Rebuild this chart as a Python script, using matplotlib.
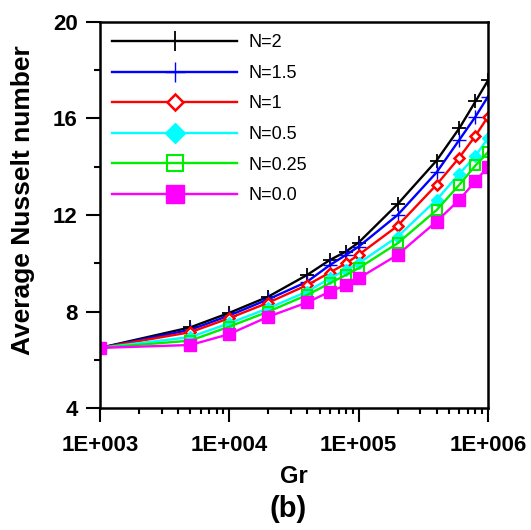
import matplotlib
matplotlib.use("Agg")
import matplotlib.pyplot as plt
from matplotlib.ticker import FixedLocator, NullFormatter, LogLocator

plt.rcParams['font.family'] = ['Liberation Sans', 'DejaVu Sans']

gr = [1e3, 5e3, 1e4, 2e4, 4e4, 6e4, 8e4, 1e5, 2e5, 4e5, 6e5, 8e5, 1e6]
nu_n2 = [6.5, 7.35, 7.95, 8.62, 9.52, 10.14, 10.49, 10.86, 12.45, 14.25, 15.59, 16.7, 17.57]
nu_n15 = [6.5, 7.25, 7.84, 8.51, 9.24, 9.93, 10.35, 10.69, 12.0, 13.76, 15.11, 16.07, 16.9]
nu_n1 = [6.5, 7.15, 7.73, 8.37, 9.1, 9.62, 10.0, 10.35, 11.55, 13.25, 14.38, 15.28, 16.07]
nu_n05 = [6.5, 6.95, 7.52, 8.14, 8.83, 9.38, 9.73, 10.0, 11.1, 12.63, 13.7, 14.45, 15.18]
nu_n025 = [6.5, 6.8, 7.38, 8.0, 8.69, 9.18, 9.52, 9.8, 10.83, 12.2, 13.25, 14.05, 14.6]
nu_n0 = [6.5, 6.62, 7.07, 7.79, 8.38, 8.83, 9.1, 9.38, 10.35, 11.73, 12.63, 13.4, 14.0]
labels = ['N=2', 'N=1.5', 'N=1', 'N=0.5', 'N=0.25', 'N=0.0']

fig = plt.figure(figsize=(5.31, 5.30), dpi=100)
ax = fig.add_axes([0.188, 0.2296, 0.731, 0.7294])

styles = [
    dict(color='black', marker='+', ms=10, mew=1.3),
    dict(color='blue', marker='+', ms=10, mew=1.0),
    dict(color='red', marker='D', ms=5.5, mew=1.8, mfc='white'),
    dict(color='cyan', marker='D', ms=6.5, mew=1),
    dict(color='#00ee00', marker='s', ms=7.5, mew=1.5, mfc='none'),
    dict(color='magenta', marker='s', ms=9, mew=1),
]
series = [nu_n2, nu_n15, nu_n1, nu_n05, nu_n025, nu_n0]
for y, lab, st in zip(series, labels, styles):
    ax.plot(gr, y, lw=1.7, label=lab, **st)

ax.set_xscale('log')
ax.set_xlim(1e3, 1e6)
ax.set_ylim(4, 20)
ax.set_xticks([1e3, 1e4, 1e5, 1e6])
ax.set_xticklabels(['1E+003', '1E+004', '1E+005', '1E+006'])
ax.xaxis.set_minor_locator(LogLocator(base=10, subs=range(2, 10)))
ax.xaxis.set_minor_formatter(NullFormatter())
ax.set_yticks([4, 8, 12, 16, 20])
ax.yaxis.set_minor_locator(FixedLocator([6, 10, 14, 18]))

ax.tick_params(which='major', direction='out', length=10, width=1.5,
               labelsize=16, top=False, right=False, pad=6)
ax.tick_params(axis='x', which='major', pad=9)
ax.tick_params(which='minor', direction='out', length=4.5, width=1.5,
               top=False, right=False)
for lbl in ax.get_xticklabels() + ax.get_yticklabels():
    lbl.set_fontweight('bold')
for sp in ax.spines.values():
    sp.set_linewidth(1.8)

ax.set_ylabel('Average Nusselt number', fontsize=19, fontweight='bold')
ax.yaxis.set_label_coords(-0.1675, 0.539)
ax.set_xlabel('Gr', fontsize=17, fontweight='bold', labelpad=7)
fig.text(0.542, 0.04, '(b)', fontsize=21, fontweight='bold', ha='center', va='center')

leg = ax.legend(loc='upper left', frameon=False, fontsize=13, handlelength=6.9,
                labelspacing=0.75, handletextpad=0.66, borderaxespad=0.3,
                markerscale=1.5, bbox_to_anchor=(0.0, 1.0))

fig.savefig('out.png', dpi=100)
